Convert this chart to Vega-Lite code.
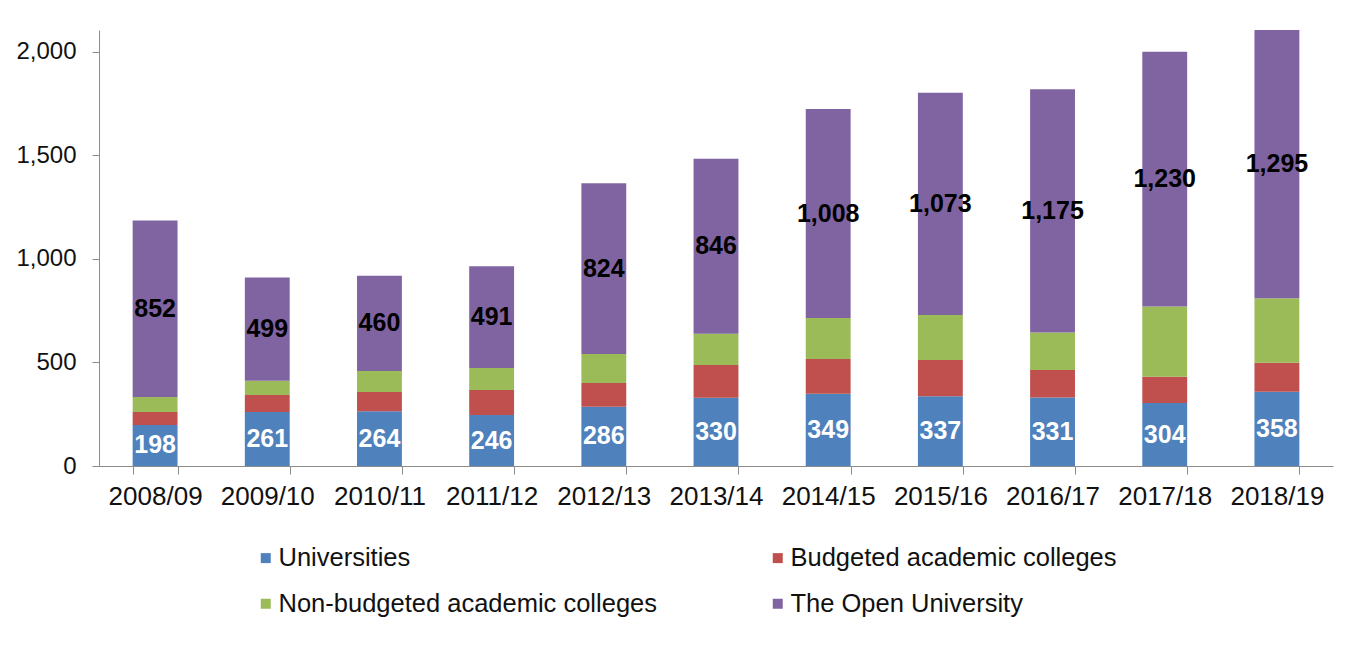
{
  "$schema": "https://vega.github.io/schema/vega-lite/v6.json",
  "autosize": {"type": "none"},
  "padding": {"left": 99, "top": 30, "right": 16, "bottom": 181},
  "width": 1234,
  "height": 436,
  "background": "white",
  "config": {
    "font": "Liberation Sans",
    "view": {"stroke": null},
    "axis": {"labelFont": "Liberation Sans", "labelColor": "#111111", "domainColor": "#8c8c8c", "tickColor": "#8c8c8c", "grid": false, "title": null}
  },
  "data": {
    "values": [
      {"year": "2008/09", "cat": "Universities", "value": 198},
      {"year": "2008/09", "cat": "Budgeted academic colleges", "value": 63},
      {"year": "2008/09", "cat": "Non-budgeted academic colleges", "value": 72},
      {"year": "2008/09", "cat": "The Open University", "value": 852},
      {"year": "2009/10", "cat": "Universities", "value": 261},
      {"year": "2009/10", "cat": "Budgeted academic colleges", "value": 82},
      {"year": "2009/10", "cat": "Non-budgeted academic colleges", "value": 68},
      {"year": "2009/10", "cat": "The Open University", "value": 499},
      {"year": "2010/11", "cat": "Universities", "value": 264},
      {"year": "2010/11", "cat": "Budgeted academic colleges", "value": 93},
      {"year": "2010/11", "cat": "Non-budgeted academic colleges", "value": 102},
      {"year": "2010/11", "cat": "The Open University", "value": 460},
      {"year": "2011/12", "cat": "Universities", "value": 246},
      {"year": "2011/12", "cat": "Budgeted academic colleges", "value": 121},
      {"year": "2011/12", "cat": "Non-budgeted academic colleges", "value": 106},
      {"year": "2011/12", "cat": "The Open University", "value": 491},
      {"year": "2012/13", "cat": "Universities", "value": 286},
      {"year": "2012/13", "cat": "Budgeted academic colleges", "value": 115},
      {"year": "2012/13", "cat": "Non-budgeted academic colleges", "value": 140},
      {"year": "2012/13", "cat": "The Open University", "value": 824},
      {"year": "2013/14", "cat": "Universities", "value": 330},
      {"year": "2013/14", "cat": "Budgeted academic colleges", "value": 158},
      {"year": "2013/14", "cat": "Non-budgeted academic colleges", "value": 150},
      {"year": "2013/14", "cat": "The Open University", "value": 846},
      {"year": "2014/15", "cat": "Universities", "value": 349},
      {"year": "2014/15", "cat": "Budgeted academic colleges", "value": 168},
      {"year": "2014/15", "cat": "Non-budgeted academic colleges", "value": 198},
      {"year": "2014/15", "cat": "The Open University", "value": 1008},
      {"year": "2015/16", "cat": "Universities", "value": 337},
      {"year": "2015/16", "cat": "Budgeted academic colleges", "value": 175},
      {"year": "2015/16", "cat": "Non-budgeted academic colleges", "value": 217},
      {"year": "2015/16", "cat": "The Open University", "value": 1073},
      {"year": "2016/17", "cat": "Universities", "value": 331},
      {"year": "2016/17", "cat": "Budgeted academic colleges", "value": 133},
      {"year": "2016/17", "cat": "Non-budgeted academic colleges", "value": 180},
      {"year": "2016/17", "cat": "The Open University", "value": 1175},
      {"year": "2017/18", "cat": "Universities", "value": 304},
      {"year": "2017/18", "cat": "Budgeted academic colleges", "value": 127},
      {"year": "2017/18", "cat": "Non-budgeted academic colleges", "value": 339},
      {"year": "2017/18", "cat": "The Open University", "value": 1230},
      {"year": "2018/19", "cat": "Universities", "value": 358},
      {"year": "2018/19", "cat": "Budgeted academic colleges", "value": 141},
      {"year": "2018/19", "cat": "Non-budgeted academic colleges", "value": 311},
      {"year": "2018/19", "cat": "The Open University", "value": 1295}
    ]
  },
  "transform": [
    {"calculate": "indexof(['Universities','Budgeted academic colleges','Non-budgeted academic colleges','The Open University'], datum.cat)", "as": "k"},
    {"stack": "value", "groupby": ["year"], "sort": [{"field": "k", "order": "ascending"}], "as": ["v0", "v1"]},
    {"calculate": "(datum.v0 + datum.v1) / 2", "as": "mid"}
  ],
  "encoding": {
    "x": {
      "field": "year", "type": "nominal", "sort": null,
      "scale": {"paddingInner": 0.6, "paddingOuter": 0.3},
      "axis": {"labelAngle": 0, "labelFontSize": 26, "tickBand": "extent", "tickSize": 8, "labelPadding": 9}
    }
  },
  "layer": [
    {
      "mark": {"type": "bar"},
      "encoding": {
        "y": {
          "field": "v0", "type": "quantitative",
          "scale": {"domain": [0, 2105], "nice": false},
          "axis": {"values": [0, 500, 1000, 1500, 2000], "format": ",.0f", "labelFontSize": 24, "tickSize": 7, "labelPadding": 16}
        },
        "y2": {"field": "v1"},
        "color": {
          "field": "cat", "type": "nominal",
          "scale": {
            "domain": ["Universities", "Budgeted academic colleges", "Non-budgeted academic colleges", "The Open University"],
            "range": ["#4F81BD", "#C0504D", "#9BBB59", "#8064A2"]
          },
          "legend": {
            "title": null, "orient": "none", "legendX": 154, "legendY": 515,
            "direction": "horizontal", "columns": 2, "columnPadding": 108, "rowPadding": 19,
            "symbolType": "square", "symbolSize": 100, "symbolStrokeWidth": 0,
            "labelFontSize": 25.5, "labelColor": "#111111", "labelOffset": 0, "labelLimit": 500, "padding": 0
          }
        }
      }
    },
    {
      "transform": [{"filter": "datum.cat === 'Universities' || datum.cat === 'The Open University'"}],
      "mark": {"type": "text", "fontSize": 25, "fontWeight": "bold", "baseline": "middle", "align": "center"},
      "encoding": {
        "y": {"field": "mid", "type": "quantitative"},
        "text": {"field": "value", "type": "quantitative", "format": ","},
        "color": {
          "condition": {"test": "datum.cat === 'Universities'", "value": "white"},
          "value": "#000000"
        }
      }
    }
  ]
}
